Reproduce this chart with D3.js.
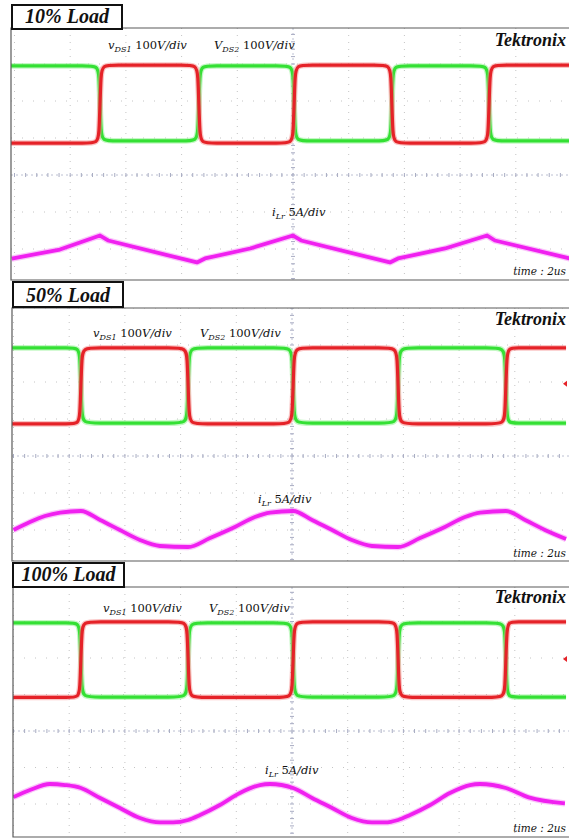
<!DOCTYPE html>
<html>
<head>
<meta charset="utf-8">
<script src="https://cdn.jsdelivr.net/npm/d3@7"></script>
<style>
body{margin:0;background:#fff;}
svg{display:block;}
text{font-family:"Liberation Serif","Times New Roman",serif;fill:#111;}
.math{font-family:"DejaVu Serif",serif;}
</style>
</head>
<body>
<svg id="mainSvg" width="569" height="839"></svg>
<script>
// ---- values (time in us, vDS in V, iLr in A) ----
var loadLabels = ["10% Load", "50% Load", "100% Load"];
var timePerDiv = "time : 2us";

// switching instants: green (vDS2) starts high, each instant swaps the two traces
var switchTimes10 = [3.07, 6.62, 10.04, 13.55, 17.04];
var switchTimes50 = [2.42, 6.27, 10.04, 13.81, 17.68];
var switchTimes100 = [2.42, 6.27, 10.04, 13.81, 17.68];
var traceEnd = [20.3, 19.84, 19.84];

// [high, low] levels of each drain-source voltage
var greenLevels = [[195, -8], [192, -11], [196, -7]];
var redLevels = [[197, -14], [192, -13], [199, -8]];
var triggerLevels = [null, 95, 97];

// resonant inductor current [t, i]
var iLr10 = [[-0.1,-1.3],[1.63,-0.07],[3.07,1.82],[3.36,1.15],[6.55,-1.82],[6.84,-1.28],[8.46,0.07],
  [10.0,1.82],[10.29,1.15],[13.48,-1.82],[13.77,-1.28],[15.46,0.07],[16.97,1.82],[17.25,1.15],[20.3,-1.6]];
var iLr50 = [[0,0],[0.59,1.08],[1.13,1.89],[1.67,2.36],[2.42,2.57],[3.11,1.35],[3.82,0],[4.54,-1.35],
  [5.26,-2.16],[6.27,-2.3],[7.06,-1.08],[7.95,0.41],[8.67,1.76],[9.21,2.36],[10.04,2.57],[10.72,1.35],
  [11.44,0],[12.15,-1.35],[12.87,-2.16],[13.81,-2.3],[14.6,-1.08],[15.49,0.41],[16.21,1.76],[16.75,2.36],
  [17.68,2.57],[18.37,1.35],[19.08,0],[19.84,-1.22]];
var iLr100 = [[0,0.96],[0.59,1.92],[1.31,2.74],[1.85,2.6],[2.42,2.19],[3.11,0.82],[3.82,-0.55],[4.54,-1.92],
  [5.26,-2.53],[5.73,-2.53],[6.27,-2.19],[6.7,-1.51],[7.41,-0.14],[8.13,1.51],[8.85,2.6],[9.21,2.74],
  [10.04,2.19],[10.72,0.82],[11.44,-0.55],[12.15,-1.92],[12.87,-2.53],[13.34,-2.53],[13.81,-2.19],
  [14.24,-1.51],[14.96,-0.14],[15.67,1.51],[16.39,2.6],[16.75,2.74],[17.68,2.19],[18.5,0.9],[19.8,0.1]];

var switchTimes = [switchTimes10, switchTimes50, switchTimes100];
var currents = [iLr10, iLr50, iLr100];

// ---- layout of each screenshot on the page ----
var layout = [
  {top:28, bottom:280, left:11, box:[12,5,110,24], titleY:23, cx:293, cy:175, dv:37,
   labY:49, v1X:108, v2X:214, tekY:46, iX:272, iY:216, timeY:275},
  {top:308, bottom:561, left:12, box:[13,282,110,25], titleY:302, cx:292, cy:456, dv:37,
   labY:337, v1X:93, v2X:200, tekY:325, iX:258, iY:503, timeY:557},
  {top:587, bottom:837, left:13, box:[13,563,111,24], titleY:581, cx:292, cy:731, dv:36.5,
   labY:612, v1X:103, v2X:209, tekY:603, iX:265, iY:774, timeY:832}
];
// the light-load current is a triangle, the others are rounded
var currentCurves = [d3.curveLinear, d3.curveMonotoneX, d3.curveMonotoneX];
var W = 569, hDiv = 55.7;
var svg = d3.select("#mainSvg");

//builds the square wave points for one vDS trace
function squareWave(times, levels, startHigh, tEnd){
  var cur = startHigh ? levels[0] : levels[1];
  var pts = [[-0.2, cur]];
  times.forEach(function (t){
    var nxt = (cur === levels[0]) ? levels[1] : levels[0];
    pts.push([t - 0.14, cur], [t - 0.03, cur], [t + 0.03, nxt], [t + 0.14, nxt]);
    cur = nxt;
  });
  pts.push([tEnd, cur]);
  return pts;
}

//draws a math style label like "v_DS1 100V/div"
function mathLabel(g, xPos, yPos, sym, sub, num, unit){
  var t = g.append("text").attr("class", "math").attr("x", xPos).attr("y", yPos).style("font-size", "11.5px");
  t.append("tspan").style("font-style", "italic").text(sym);
  t.append("tspan").attr("dy", 3).style("font-size", "8px").style("font-style", "italic").text(sub);
  t.append("tspan").attr("dy", -3).text(" " + num);
  t.append("tspan").style("font-style", "italic").text(unit);
}

layout.forEach(function (p, k){
  var g = svg.append("g");
  var x = d3.scaleLinear().domain([0, 20]).range([p.cx - 5*hDiv, p.cx + 5*hDiv]);
  // screen divisions -> pixels
  var yDiv = d3.scaleLinear().domain([-4, 4]).range([p.cy + 4*p.dv, p.cy - 4*p.dv]);
  var yV = function (v){ return yDiv(1 + v/100); };   // 100V/div, zero one div above centre
  var yI = function (i){ return yDiv(-2 + i/5); };    // 5A/div, zero two div below centre

  // clip to the screen
  g.append("clipPath").attr("id", "clip" + k).append("rect")
    .attr("x", p.left).attr("y", p.top).attr("width", W - p.left).attr("height", p.bottom - p.top);
  var scr = g.append("g").attr("clip-path", "url(#clip" + k + ")");

  // dotted graticule
  d3.range(-5, 6).filter(function (d){ return d !== 0; }).forEach(function (d){
    scr.append("line").attr("x1", p.cx + d*hDiv).attr("x2", p.cx + d*hDiv)
      .attr("y1", p.top).attr("y2", p.bottom)
      .style("stroke", "#c4c4c4").style("stroke-width", 1).style("stroke-dasharray", "1,6");
  });
  d3.range(-4, 5).filter(function (d){ return d !== 0; }).forEach(function (d){
    scr.append("line").attr("x1", p.left).attr("x2", W)
      .attr("y1", yDiv(d)).attr("y2", yDiv(d))
      .style("stroke", "#c4c4c4").style("stroke-width", 1).style("stroke-dasharray", "1,10");
  });
  // centre lines with minor ticks
  scr.append("line").attr("x1", p.cx).attr("x2", p.cx).attr("y1", p.top).attr("y2", p.bottom)
    .style("stroke", "#bcc0d2").style("stroke-width", 1).style("stroke-dasharray", "2,3");
  scr.append("line").attr("x1", p.left).attr("x2", W).attr("y1", p.cy).attr("y2", p.cy)
    .style("stroke", "#bcc0d2").style("stroke-width", 1).style("stroke-dasharray", "2,3");
  scr.selectAll(".vt").data(d3.range(-20, 21)).enter().append("line")
    .attr("x1", p.cx - 2).attr("x2", p.cx + 2)
    .attr("y1", function (d){ return yDiv(d/5); }).attr("y2", function (d){ return yDiv(d/5); })
    .style("stroke", "#a8acc2").style("stroke-width", 1);
  scr.selectAll(".ht").data(d3.range(-25, 26)).enter().append("line")
    .attr("y1", p.cy - 2).attr("y2", p.cy + 2)
    .attr("x1", function (d){ return p.cx + d*hDiv/5; }).attr("x2", function (d){ return p.cx + d*hDiv/5; })
    .style("stroke", "#a8acc2").style("stroke-width", 1);

  // traces
  var lineV = d3.line().x(function (d){ return x(d[0]); }).y(function (d){ return yV(d[1]); }).curve(d3.curveBasis);
  var lineI = d3.line().x(function (d){ return x(d[0]); }).y(function (d){ return yI(d[1]); }).curve(currentCurves[k]);
  var traces = [
    {pts: squareWave(switchTimes[k], greenLevels[k], true, traceEnd[k]), gen: lineV, col: "#34e034", halo: "#8af28a", w: 3.2},
    {pts: squareWave(switchTimes[k], redLevels[k], false, traceEnd[k]), gen: lineV, col: "#e52228", halo: "#f58a8a", w: 3.2},
    {pts: currents[k], gen: lineI, col: "#f020f0", halo: "#f68af6", w: 3.8}
  ];
  traces.forEach(function (t){
    scr.append("path").attr("d", t.gen(t.pts)).style("fill", "none")
      .style("stroke", t.halo).style("stroke-width", t.w + 2.5).style("stroke-opacity", 0.5)
      .style("stroke-linejoin", "round");
    scr.append("path").attr("d", t.gen(t.pts)).style("fill", "none")
      .style("stroke", t.col).style("stroke-width", t.w).style("stroke-linejoin", "round");
  });

  // trigger marker
  if (triggerLevels[k] !== null){
    var ty = yV(triggerLevels[k]);
    g.append("path").attr("d", "M" + (W - 2) + "," + (ty - 3) + "L" + (W - 6) + "," + ty + "L" + (W - 2) + "," + (ty + 3) + "Z")
      .style("fill", "#e52228");
  }

  // screen frame
  g.append("path")
    .attr("d", "M" + W + "," + p.top + "H" + p.left + "V" + p.bottom + "H" + W)
    .style("fill", "none").style("stroke", "#5a5a5a").style("stroke-width", 1.2);

  // title box
  g.append("rect").attr("x", p.box[0]).attr("y", p.box[1]).attr("width", p.box[2]).attr("height", p.box[3])
    .style("fill", "#fff").style("stroke", "#111").style("stroke-width", 2);
  g.append("text").attr("x", p.box[0] + p.box[2]/2).attr("y", p.titleY).attr("text-anchor", "middle")
    .style("font-size", "20px").style("font-weight", "bold").style("font-style", "italic").text(loadLabels[k]);

  // labels
  g.append("text").attr("x", W - 3).attr("y", p.tekY).attr("text-anchor", "end")
    .style("font-size", "18px").style("font-weight", "bold").style("font-style", "italic").text("Tektronix");

  mathLabel(g, p.v1X, p.labY, "v", "DS1", "100", "V/div");
  mathLabel(g, p.v2X, p.labY, "V", "DS2", "100", "V/div");
  mathLabel(g, p.iX, p.iY, "i", "Lr", "5", "A/div");

  g.append("text").attr("class", "math").attr("x", W - 3).attr("y", p.timeY).attr("text-anchor", "end")
    .style("font-size", "10.5px").style("font-style", "italic").text(timePerDiv);
});
</script>
</body>
</html>
